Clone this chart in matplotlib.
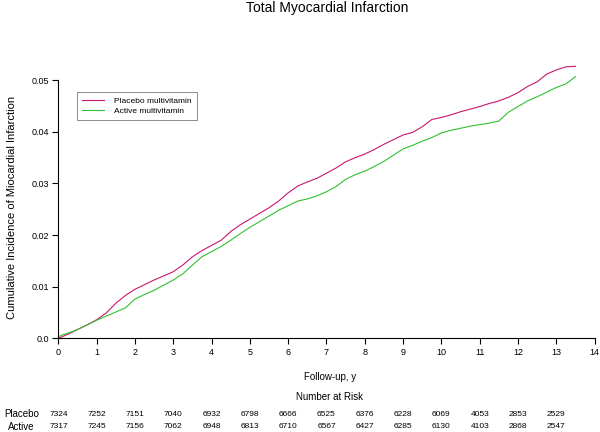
import matplotlib
matplotlib.use("Agg")
import matplotlib.pyplot as plt
import matplotlib.transforms as mtransforms

plt.rcParams['font.family'] = ['Liberation Sans', 'DejaVu Sans']

# cumulative incidence
t_placebo = [0, 0.1, 0.25, 0.5, 0.75, 1.0, 1.25, 1.5, 1.75, 2.0, 2.25, 2.5, 2.75,
             3.0, 3.25, 3.5, 3.75, 4.0, 4.25, 4.5, 4.75, 5.0, 5.25, 5.5, 5.75,
             6.0, 6.25, 6.5, 6.75, 7.0, 7.25, 7.5, 7.75, 8.0, 8.25, 8.5, 8.75,
             9.0, 9.25, 9.5, 9.75, 10.0, 10.25, 10.5, 10.75, 11.0, 11.25, 11.5,
             11.75, 12.0, 12.25, 12.5, 12.75, 13.0, 13.25, 13.5]
ci_placebo = [0, 0.0003, 0.0008, 0.0017, 0.0026, 0.0036, 0.0049, 0.0068, 0.0083,
              0.0095, 0.0104, 0.0113, 0.0121, 0.0129, 0.0142, 0.0158, 0.0170,
              0.0180, 0.0190, 0.0207, 0.0220, 0.0231, 0.0242, 0.0253, 0.0266,
              0.0282, 0.0295, 0.0303, 0.0310, 0.0320, 0.0330, 0.0342, 0.0350,
              0.0357, 0.0366, 0.0376, 0.0385, 0.0394, 0.0399, 0.0410, 0.0424,
              0.0428, 0.0433, 0.0439, 0.0444, 0.0449, 0.0455, 0.0460, 0.0467,
              0.0476, 0.0488, 0.0497, 0.0512, 0.0520, 0.0526, 0.0527]

t_active = [0, 0.05, 0.25, 0.5, 0.75, 1.0, 1.25, 1.5, 1.75, 2.0, 2.25, 2.5, 2.75,
            3.0, 3.25, 3.5, 3.75, 4.0, 4.25, 4.5, 4.75, 5.0, 5.25, 5.5, 5.75,
            6.0, 6.25, 6.5, 6.75, 7.0, 7.25, 7.5, 7.75, 8.0, 8.25, 8.5, 8.75,
            9.0, 9.25, 9.5, 9.75, 10.0, 10.25, 10.5, 10.75, 11.0, 11.25, 11.5,
            11.75, 12.0, 12.25, 12.5, 12.75, 13.0, 13.25, 13.5]
ci_active = [0, 0.0005, 0.0010, 0.0017, 0.0026, 0.0035, 0.0043, 0.0051, 0.0059,
             0.0076, 0.0085, 0.0093, 0.0103, 0.0113, 0.0125, 0.0142, 0.0158,
             0.0168, 0.0178, 0.0190, 0.0203, 0.0215, 0.0226, 0.0237, 0.0248,
             0.0257, 0.0266, 0.0270, 0.0276, 0.0284, 0.0294, 0.0308, 0.0317,
             0.0324, 0.0333, 0.0343, 0.0355, 0.0367, 0.0374, 0.0382, 0.0389,
             0.0398, 0.0403, 0.0407, 0.0411, 0.0414, 0.0417, 0.0421, 0.0438,
             0.0449, 0.0460, 0.0468, 0.0477, 0.0486, 0.0493, 0.0507]

# number at risk table
risk_years = list(range(14))
risk_placebo = [7324, 7252, 7151, 7040, 6932, 6798, 6666, 6525, 6376, 6228, 6069, 4053, 2853, 2529]
risk_active = [7317, 7245, 7156, 7062, 6948, 6813, 6710, 6567, 6427, 6285, 6130, 4103, 2868, 2547]

col_placebo = "#C8186E"
col_active = "#33C030"

fig = plt.figure(figsize=(6, 4.32), dpi=100)
ax = fig.add_axes([0.0973, 0.2169, 0.8937, 0.657])

ax.plot(t_placebo, ci_placebo, color=col_placebo, lw=0.8,
        label="Placebo multivitamin")
ax.plot(t_active, ci_active, color=col_active, lw=0.8,
        label="Active multivitamin")

ax.set_xlim(0, 14)
ax.set_ylim(0, 0.055)
ax.set_xticks(range(15))
ax.set_yticks([0, 0.01, 0.02, 0.03, 0.04, 0.05])
ax.set_yticklabels(["0.0", "0.01", "0.02", "0.03", "0.04", "0.05"])
ax.spines["top"].set_visible(False)
ax.spines["right"].set_visible(False)
ax.spines["left"].set_bounds(0, 0.05)
ax.spines["bottom"].set_bounds(0, 14)
ax.spines["left"].set_linewidth(0.8)
ax.spines["bottom"].set_linewidth(0.8)
ax.tick_params(direction="out", length=4, width=0.8, labelsize=6.5, pad=3)

leg = ax.legend(loc="upper left", bbox_to_anchor=(0.0277, 0.882), fontsize=6,
                frameon=True, fancybox=False, handlelength=2.6, borderpad=0.6,
                labelspacing=0.3, handletextpad=1.2)
leg.get_frame().set_edgecolor("#555555")
leg.get_frame().set_linewidth(0.6)

fig.text(0.545, 1 - 8 / 432, "Total Myocardial Infarction", ha="center",
         va="center", fontsize=10)
fig.text(0.02, 1 - 207 / 432, "Cumulative Incidence of Miocardial Infarction",
         rotation=90, ha="center", va="center", fontsize=8)
fig.text(0.55, 1 - 377 / 432, "Follow-up, y", ha="center", va="center", fontsize=7)
fig.text(0.55, 1 - 397 / 432, "Number at Risk", ha="center", va="center", fontsize=7)

trans = mtransforms.blended_transform_factory(ax.transData, fig.transFigure)
for yr, n in zip(risk_years, risk_placebo):
    ax.text(yr, 1 - 414 / 432, str(n), transform=trans, ha="center",
            va="center", fontsize=6, clip_on=False)
for yr, n in zip(risk_years, risk_active):
    ax.text(yr, 1 - 427 / 432, str(n), transform=trans, ha="center",
            va="center", fontsize=6, clip_on=False)
fig.text(21.5 / 600, 1 - 414 / 432, "Placebo", ha="center", va="center", fontsize=7)
fig.text(21.5 / 600, 1 - 427 / 432, "Active", ha="center", va="center", fontsize=7)

fig.savefig("out.png", dpi=100)
